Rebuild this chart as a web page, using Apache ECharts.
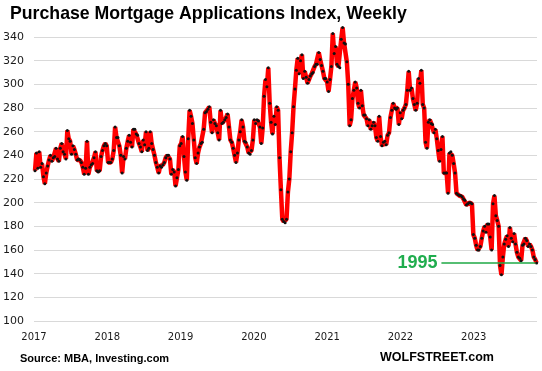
<!DOCTYPE html>
<html><head><meta charset="utf-8">
<script src="https://cdn.jsdelivr.net/npm/echarts@6/dist/echarts.min.js"></script>
<style>html,body{margin:0;padding:0;background:#fff}#c{width:542px;height:371px}</style>
</head><body><div id="c"></div>
<script>
// Weekly Purchase Mortgage Applications Index
const startDate = '2017-01-06';
const w2017 = [227,242,229,243,230,233,222,216,225,231,236,240,235,238,239,246,237,235,246,250,243,241,237,261,254,252,241,248,245,241,236,237,236,234,230,224,229,252,224,230,232,233,238,243,227,226,227,239,244,248,250,248];
const w2018 = [234,234,234,237,244,264,255,255,248,240,225,239,237,246,252,257,251,247,262,262,258,257,250,247,243,253,249,260,244,246,260,250,245,240,234,230,225,231,230,232,234,238,240,240,237,224,228,226,214,221,228,248];
const w2019 = [250,256,239,226,219,254,278,273,267,253,238,233,242,247,250,251,262,276,277,279,281,268,259,270,267,265,259,253,278,267,268,270,272,275,264,253,251,246,240,234,242,253,260,270,264,252,251,247,242,241,244,253];
const w2020 = [270,267,270,269,264,250,263,290,304,298,314,284,268,258,273,266,281,278,238,211,186,184,183,186,209,220,243,259,281,296,312,322,309,320,325,305,311,306,301,304,307,309,310,315,317,317,327,321,316,311,305,305];
const w2021 = [302,294,304,315,343,326,332,317,315,314,338,348,335,334,319,300,265,270,288,295,302,297,284,280,295,282,274,274,271,265,270,262,265,268,265,255,252,273,256,248,251,252,249,257,259,272,278,284,280,279,280,266];
const w2022 = [276,271,278,280,283,295,311,295,297,288,283,278,284,305,301,312,283,280,251,246,268,270,267,266,259,262,254,244,235,245,256,225,225,225,208,242,243,240,233,225,208,207,206,206,205,203,202,198,199,200,200,199];
const w2023 = [173,170,164,160,160,163,170,176,180,175,182,182,171,160,199,206,189,185,180,147,139,154,165,169,172,163,179,170,167,174,165,158,154,153,151,164,165,170,168,163,165,163,160,154,152,149];
const yearTicks = [2017,2018,2019,2020,2021,2022,2023];
const axisEnd = '2023-11-12';
const level1995 = 149;
const level1995From = '2022-07-24';
const level1995To = '2023-11-04';
const titleText = 'Purchase Mortgage Applications Index, Weekly';
const sourceText = 'Source: MBA, Investing.com';
const brandText = 'WOLFSTREET.com';

const values = [].concat(w2017,w2018,w2019,w2020,w2021,w2022,w2023);
const DAY = 86400000;
function toYear(ms){const y=new Date(ms).getUTCFullYear();const s=Date.UTC(y,0,1),e=Date.UTC(y+1,0,1);return y+(ms-s)/(e-s);}
const t0 = Date.parse(startDate+'T00:00:00Z');
const data = values.map((v,i)=>[toYear(t0+i*7*DAY), v]);
const xMax = toYear(Date.parse(axisEnd+'T00:00:00Z'));
const lx1 = toYear(Date.parse(level1995From+'T00:00:00Z'));
const lx2 = toYear(Date.parse(level1995To+'T00:00:00Z'));

const chart = echarts.init(document.getElementById('c'), null, {renderer:'canvas'});
chart.setOption({
  animation:false,
  backgroundColor:'#fff',
  grid:{left:34,right:5,top:37,bottom:50},
  xAxis:{type:'value',min:yearTicks[0],max:xMax,interval:1,
    axisLine:{show:false},axisTick:{show:false},splitLine:{show:false},
    axisLabel:{margin:11,fontSize:10,fontFamily:'DejaVu Sans',color:'#1a1a1a',showMaxLabel:false,
      formatter:v=>yearTicks.indexOf(v)>=0?String(v):''}},
  yAxis:{type:'value',min:100,max:340,interval:20,
    axisLine:{show:false},axisTick:{show:false},
    splitLine:{lineStyle:{color:'#d9d9d9',width:1}},
    axisLabel:{margin:10,fontSize:11,fontFamily:'DejaVu Sans',color:'#1a1a1a'}},
  series:[{
    type:'line',data:data,clip:false,
    symbol:'circle',symbolSize:3,showSymbol:true,
    itemStyle:{color:'#111'},
    lineStyle:{color:'#ff0000',width:4.5},
    markLine:{silent:true,symbol:'none',
      lineStyle:{color:'#1ea844',width:1.5,type:'solid'},
      label:{show:true,position:'start',distance:4,formatter:'1995',color:'#20ad4e',fontSize:18,fontWeight:'bold',fontFamily:'Liberation Sans'},
      data:[[{coord:[lx1,level1995]},{coord:[lx2,level1995]}]]}
  }],
  graphic:[
    {type:'text',style:{text:titleText,x:10,y:14,verticalAlign:'middle',fill:'#000',font:'bold 17.7px "Liberation Sans"'}},
    {type:'text',style:{text:sourceText,x:20,y:359,verticalAlign:'middle',fill:'#000',font:'bold 11px "Liberation Sans"'}},
    {type:'text',style:{text:brandText,x:380,y:358,verticalAlign:'middle',fill:'#000',font:'bold 12.5px "Liberation Sans"'}}
  ]
});
</script></body></html>
